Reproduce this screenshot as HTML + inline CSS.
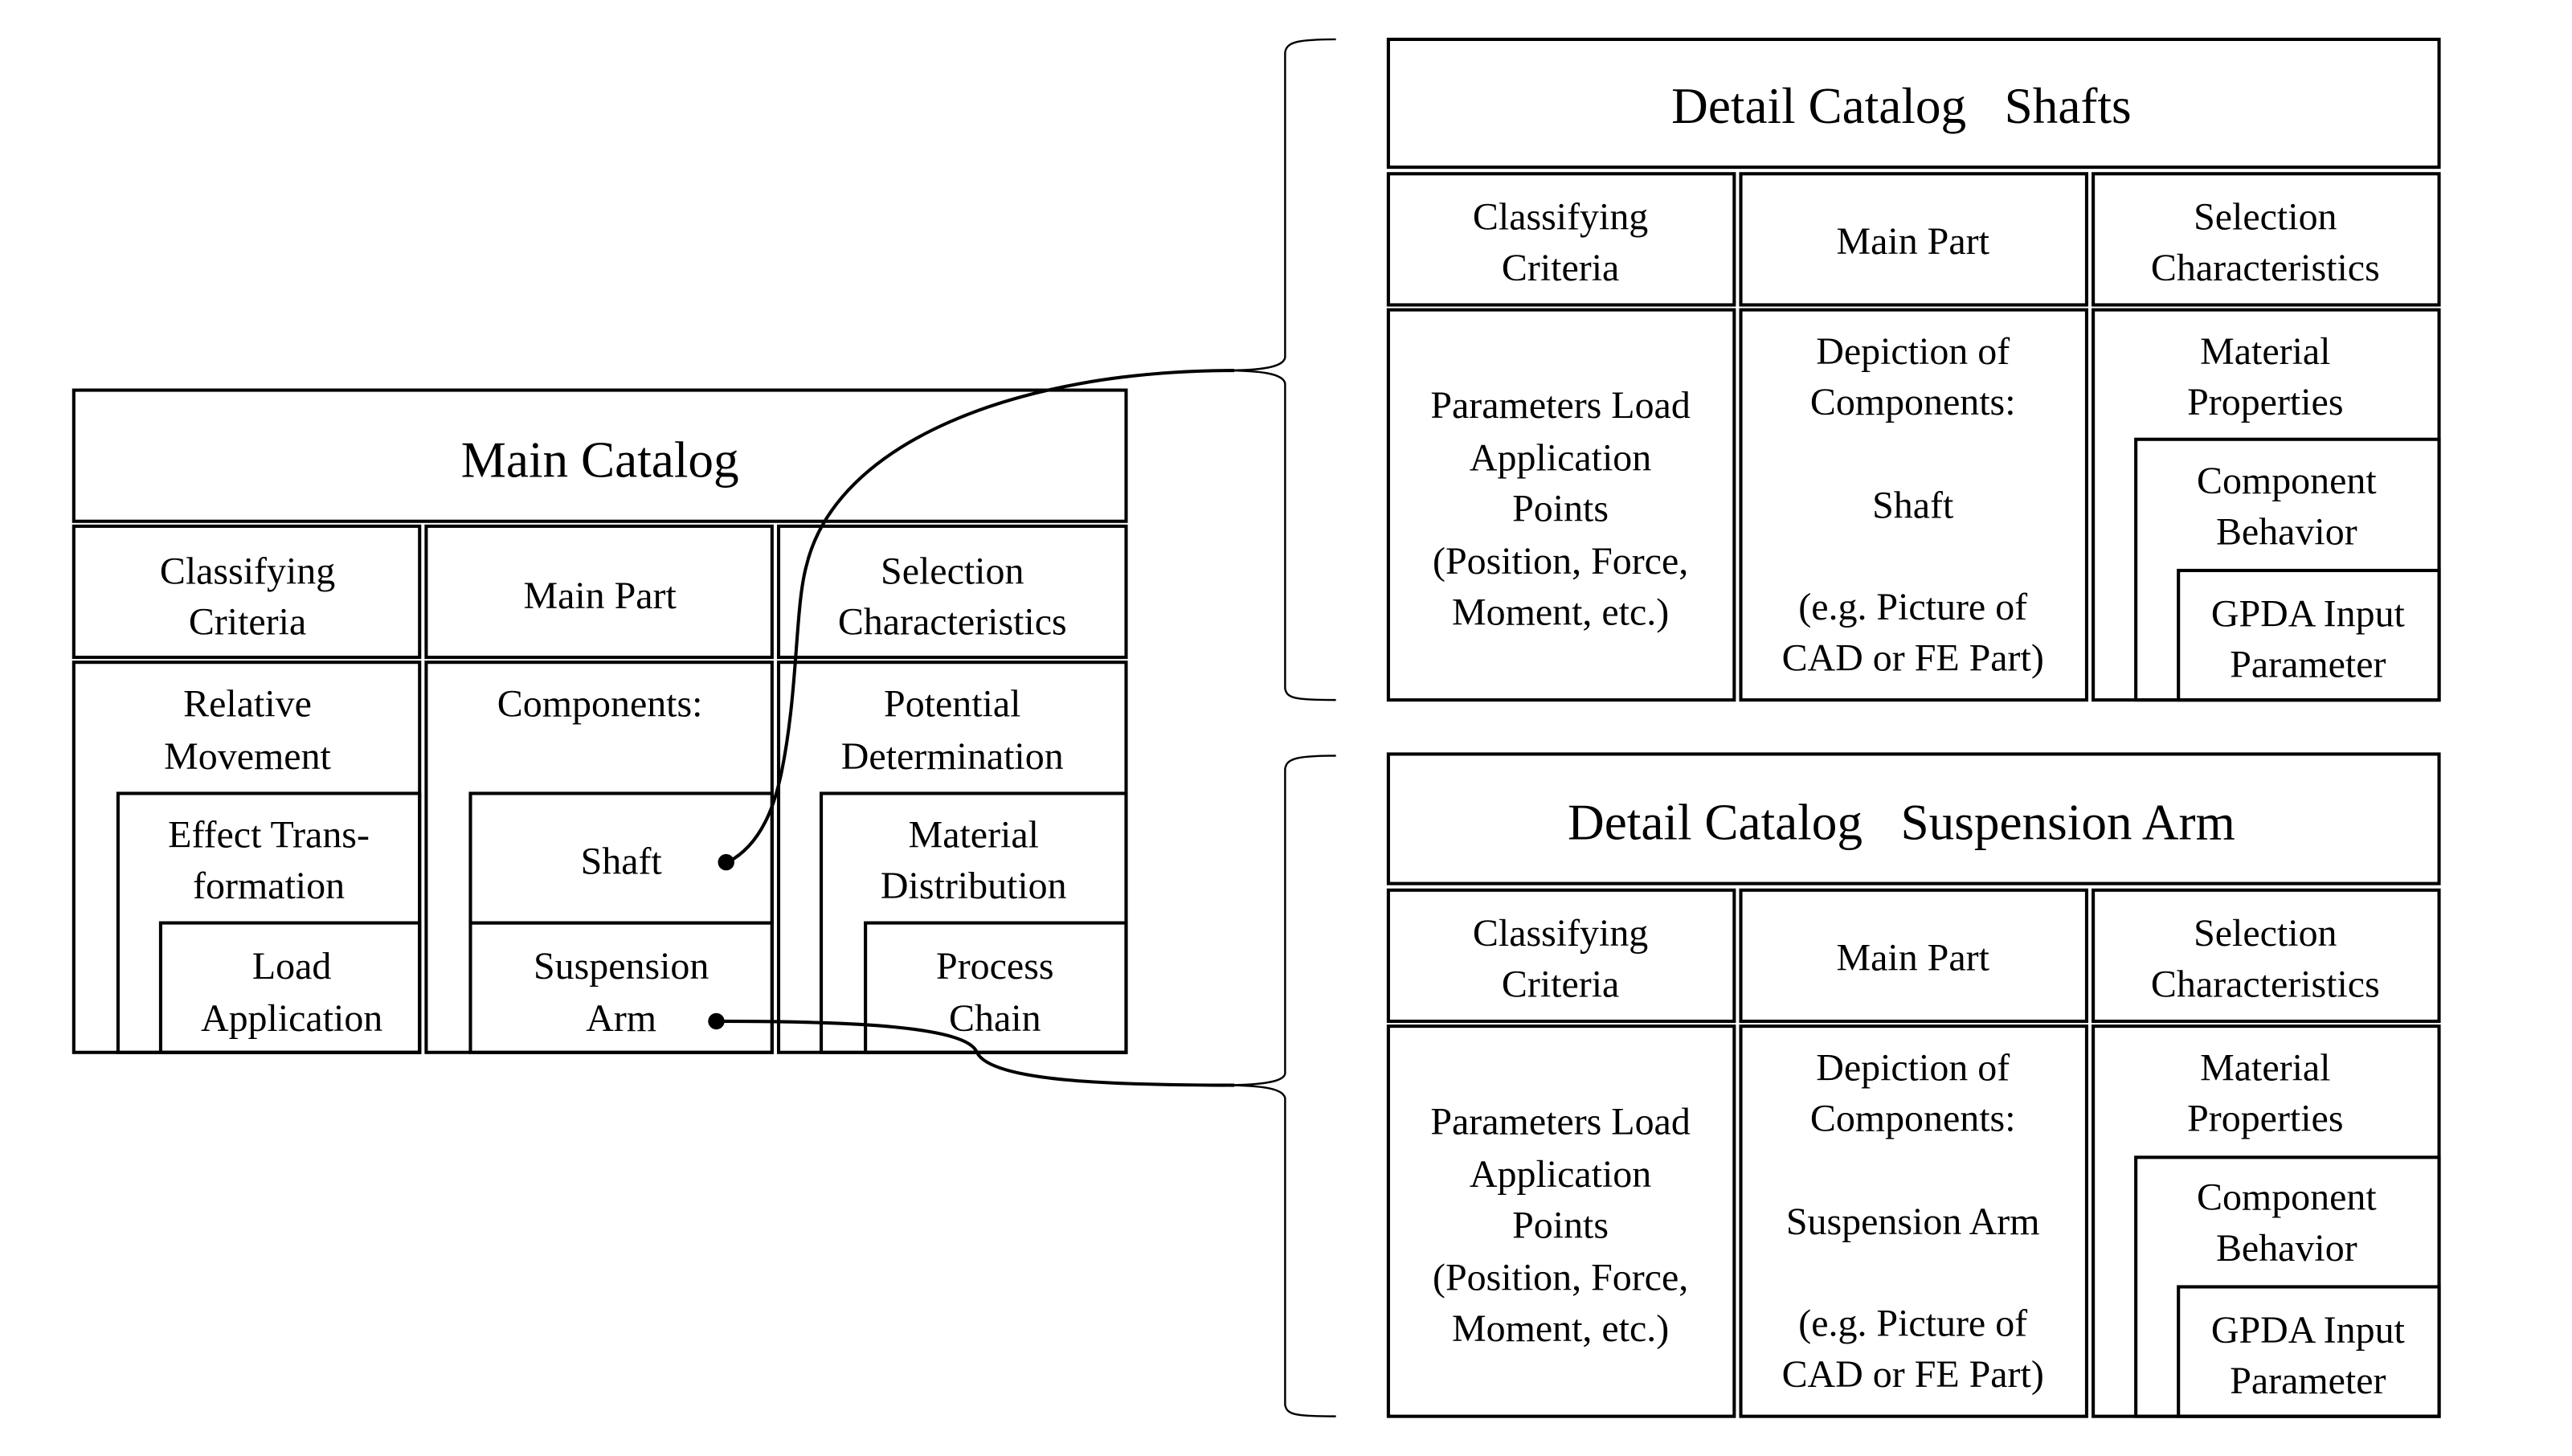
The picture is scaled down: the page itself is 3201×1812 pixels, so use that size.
<!DOCTYPE html>
<html><head><meta charset="utf-8"><style>html,body{margin:0;padding:0;background:#fff}svg{display:block}
svg text{font-family:"Liberation Serif","Times New Roman",Times,serif;}</style></head>
<body>
<svg width="3201" height="1812" viewBox="0 0 1569.1 888.2" preserveAspectRatio="none" xmlns="http://www.w3.org/2000/svg">
<g fill="none" stroke="#000" stroke-width="2">
<rect x="45" y="238" width="642" height="80"/>
<rect x="45" y="321" width="211" height="80"/>
<rect x="260" y="321" width="211" height="80"/>
<rect x="475" y="321" width="212" height="80"/>
<rect x="45" y="404" width="211" height="238"/>
<rect x="260" y="404" width="211" height="238"/>
<rect x="475" y="404" width="212" height="238"/>
<rect x="72" y="484" width="184" height="158"/>
<rect x="98" y="563" width="158" height="79"/>
<rect x="287" y="484" width="184" height="79"/>
<rect x="287" y="563" width="184" height="79"/>
<rect x="501" y="484" width="186" height="158"/>
<rect x="528" y="563" width="159" height="79"/>
<rect x="847" y="24" width="641" height="78"/>
<rect x="847" y="106" width="211" height="80"/>
<rect x="1062" y="106" width="211" height="80"/>
<rect x="1277" y="106" width="211" height="80"/>
<rect x="847" y="189" width="211" height="238"/>
<rect x="1062" y="189" width="211" height="238"/>
<rect x="1277" y="189" width="211" height="238"/>
<rect x="1303" y="268" width="185" height="159"/>
<rect x="1329" y="348" width="159" height="79"/>
<rect x="847" y="460" width="641" height="79"/>
<rect x="847" y="543" width="211" height="80"/>
<rect x="1062" y="543" width="211" height="80"/>
<rect x="1277" y="543" width="211" height="80"/>
<rect x="847" y="626" width="211" height="238"/>
<rect x="1062" y="626" width="211" height="238"/>
<rect x="1277" y="626" width="211" height="238"/>
<rect x="1303" y="706" width="185" height="158"/>
<rect x="1329" y="785" width="159" height="79"/>
</g>
<g fill="none" stroke="#000" stroke-width="1.2">
<path d="M815,24 C790,24 785,26 784,32 L784,218 C783,224 770,226 745,226 C770,226 783,228 784,234 L784,420 C785,426 790,427 815,427"/>
<path d="M815,461 C790,461 785,463 784,469 L784,655 C783,660 770,662 745,662 C770,662 783,664 784,670 L784,857 C785,863 790,864 815,864"/>
</g>
<g fill="none" stroke="#000" stroke-width="2">
<path d="M444,526 C465,515 473,490 477,470 C487,420 485,370 492,345 C510,270 620,226 753,226"/>
<path d="M438,623 C520,623 590,626 596,642 C605,660 680,662 753,662"/>
</g>
<circle cx="443" cy="526" r="5" fill="#000"/>
<circle cx="437" cy="623" r="5" fill="#000"/>
<g font-size="23.5" text-anchor="middle" fill="#000">
<text x="366" y="291" font-size="31">Main Catalog</text>
<text x="151" y="356">Classifying</text><text x="151" y="387">Criteria</text>
<text x="366" y="371">Main Part</text>
<text x="581" y="356">Selection</text><text x="581" y="387">Characteristics</text>
<text x="151" y="437">Relative</text><text x="151" y="469">Movement</text>
<text x="164" y="517">Effect Trans-</text><text x="164" y="548">formation</text>
<text x="178" y="597">Load</text><text x="178" y="629">Application</text>
<text x="366" y="437">Components:</text>
<text x="379" y="533">Shaft</text>
<text x="379" y="597">Suspension</text><text x="379" y="629">Arm</text>
<text x="581" y="437">Potential</text><text x="581" y="469">Determination</text>
<text x="594" y="517">Material</text><text x="594" y="548">Distribution</text>
<text x="607" y="597">Process</text><text x="607" y="629">Chain</text>

<text x="1160" y="75" font-size="31" xml:space="preserve">Detail Catalog   Shafts</text>
<text x="952" y="140">Classifying</text><text x="952" y="171">Criteria</text>
<text x="1167" y="155">Main Part</text>
<text x="1382" y="140">Selection</text><text x="1382" y="171">Characteristics</text>
<text x="952" y="255">Parameters Load</text><text x="952" y="287">Application</text><text x="952" y="318">Points</text><text x="952" y="350">(Position, Force,</text><text x="952" y="381">Moment, etc.)</text>
<text x="1167" y="222">Depiction of</text><text x="1167" y="253">Components:</text><text x="1167" y="316">Shaft</text><text x="1167" y="378">(e.g. Picture of</text><text x="1167" y="409">CAD or FE Part)</text>
<text x="1382" y="222">Material</text><text x="1382" y="253">Properties</text>
<text x="1395" y="301">Component</text><text x="1395" y="332">Behavior</text>
<text x="1408" y="382">GPDA Input</text><text x="1408" y="413">Parameter</text>

<text x="1160" y="512" font-size="31" xml:space="preserve">Detail Catalog   Suspension Arm</text>
<text x="952" y="577">Classifying</text><text x="952" y="608">Criteria</text>
<text x="1167" y="592">Main Part</text>
<text x="1382" y="577">Selection</text><text x="1382" y="608">Characteristics</text>
<text x="952" y="692">Parameters Load</text><text x="952" y="724">Application</text><text x="952" y="755">Points</text><text x="952" y="787">(Position, Force,</text><text x="952" y="818">Moment, etc.)</text>
<text x="1167" y="659">Depiction of</text><text x="1167" y="690">Components:</text><text x="1167" y="753">Suspension Arm</text><text x="1167" y="815">(e.g. Picture of</text><text x="1167" y="846">CAD or FE Part)</text>
<text x="1382" y="659">Material</text><text x="1382" y="690">Properties</text>
<text x="1395" y="738">Component</text><text x="1395" y="769">Behavior</text>
<text x="1408" y="819">GPDA Input</text><text x="1408" y="850">Parameter</text>
</g>
</svg>
</body></html>
